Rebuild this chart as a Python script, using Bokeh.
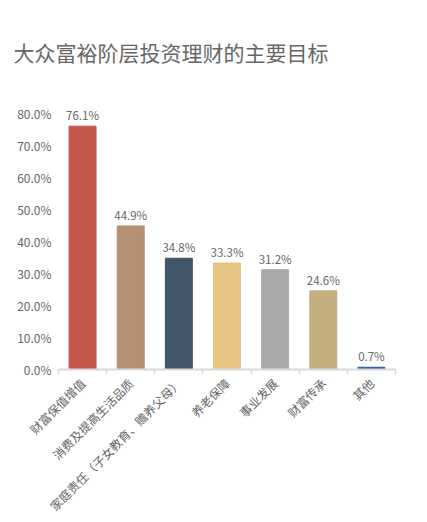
from bokeh.plotting import figure
from bokeh.models import Range1d, FixedTicker, PrintfTickFormatter, ColumnDataSource
from bokeh.core.properties import value
from bokeh.embed import file_html
from bokeh.resources import INLINE
import math

title_text = "大众富裕阶层投资理财的主要目标"
categories = ["财富保值增值", "消费及提高生活品质", "家庭责任（子女教育、赡养父母）",
              "养老保障", "事业发展", "财富传承", "其他"]
values = [76.1, 44.9, 34.8, 33.3, 31.2, 24.6, 0.7]
colors = ["#C5564A", "#B58F72", "#435668", "#E8C483", "#AAAAAA", "#C2AE7E", "#2F5A9C"]
y_ticks = [0, 10, 20, 30, 40, 50, 60, 70, 80]

FONT = "Noto Sans CJK SC"
GRAY = "#666666"

n = len(categories)
xs = [i + 0.5 for i in range(n)]
labels = ["%.1f%%" % v for v in values]
src = ColumnDataSource(dict(x=xs, top=values, color=colors, label=labels))

p = figure(width=411, height=522, output_backend="svg", toolbar_location=None,
           x_range=Range1d(0, n), y_range=Range1d(0, 86),
           min_border_left=58, min_border_right=16, min_border_top=94, min_border_bottom=152)
p.outline_line_color = None
p.xgrid.visible = False
p.ygrid.visible = False

p.vbar(x="x", top="top", bottom=0, width=0.56, color="color", source=src)
p.text(x="x", y="top", text="label", source=src, text_align="center", text_baseline="bottom",
       y_offset=-3, text_font=value(FONT), text_font_size="11.5px", text_color=GRAY)

p.title.text = title_text
p.title.text_font = FONT
p.title.text_font_size = "21px"
p.title.text_font_style = "normal"
p.title.text_color = GRAY
p.title.align = "left"
p.title.offset = -45
p.title.standoff = 55

xa = p.xaxis[0]
xa.ticker = FixedTicker(ticks=xs, minor_ticks=list(range(n + 1)))
xa.major_label_overrides = {x: c for x, c in zip(xs, categories)}
xa.major_label_orientation = math.pi / 4
xa.major_tick_line_color = None
xa.major_tick_out = 0
xa.major_tick_in = 0
xa.minor_tick_in = 0
xa.minor_tick_out = 5
xa.minor_tick_line_color = "#D9D9D9"
xa.minor_tick_line_width = 1.5
xa.axis_line_color = "#D9D9D9"
xa.axis_line_width = 2
xa.major_label_text_font = FONT
xa.major_label_text_font_size = "12px"
xa.major_label_text_color = GRAY
xa.major_label_standoff = 6

ya = p.yaxis[0]
ya.ticker = FixedTicker(ticks=y_ticks)
ya.formatter = PrintfTickFormatter(format="%.1f%%")
ya.axis_line_color = None
ya.major_tick_line_color = None
ya.major_tick_out = 0
ya.major_tick_in = 0
ya.minor_tick_line_color = None
ya.major_label_text_font = FONT
ya.major_label_text_font_size = "12px"
ya.major_label_text_color = GRAY
ya.major_label_standoff = 7

open("out.html", "w").write(file_html(p, INLINE))
